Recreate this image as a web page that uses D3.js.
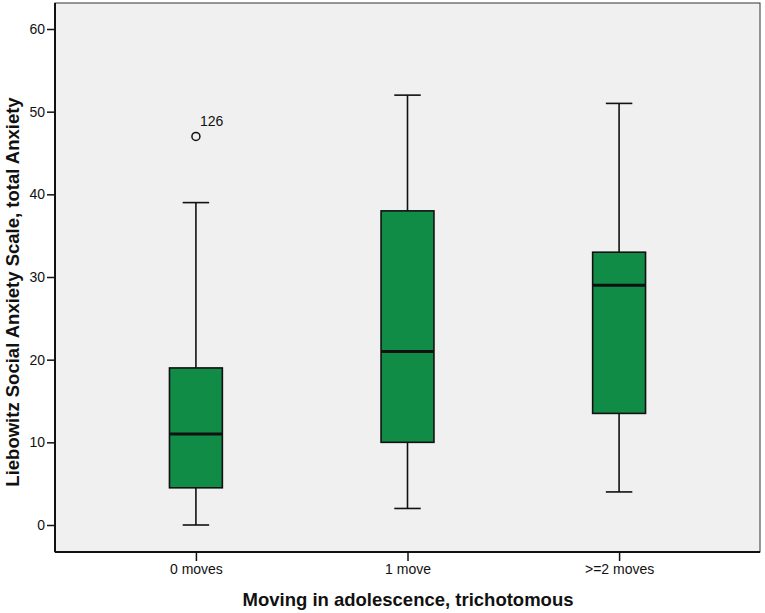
<!DOCTYPE html>
<html>
<head>
<meta charset="utf-8">
<script src="https://cdn.jsdelivr.net/npm/d3@7"></script>
<style>
  body { margin: 0; background: #fff; }
  svg text { font-family: "Liberation Sans", Arial, sans-serif; fill: #111; }
  .tick-label { font-size: 14px; }
  .axis-title { font-size: 18.5px; font-weight: bold; }
</style>
</head>
<body>
<svg id="chart"></svg>
<script>
// data
const groups = ['0 moves', '1 move', '>=2 moves']
const whiskerLow = [0, 2, 4]
const q1 = [4.5, 10, 13.5]
const medians = [11, 21, 29]
const q3 = [19, 38, 33]
const whiskerHigh = [39, 52, 51]
const outliers = [{group: '0 moves', value: 47, label: '126'}]
const yTicks = [0, 10, 20, 30, 40, 50, 60]

const width = 765, height = 613
const plot = {left: 55, right: 760, top: 3, bottom: 552}

const svg = d3.select('#chart')
    .attr('width', width)
    .attr('height', height)

const x = d3.scalePoint()
    .domain(groups)
    .range([plot.left, plot.right])
    .padding(0.666)

const y = d3.scaleLinear()
    .domain([0, 60])
    .range([525, 29])

const boxW = x.step() * 0.25
const capW = boxW / 2

// plot background
svg.append('rect')
    .attr('x', plot.left)
    .attr('y', plot.top)
    .attr('width', plot.right - plot.left)
    .attr('height', plot.bottom - plot.top)
    .attr('fill', '#f0f0f0')
    .attr('stroke', '#333')
    .attr('stroke-width', 1)

// axes
const yAxis = d3.axisLeft(y).tickValues(yTicks).tickSize(8).tickPadding(2)
const yG = svg.append('g')
    .attr('transform', `translate(${plot.left},0)`)
    .call(yAxis)
yG.select('.domain').remove()
yG.selectAll('.tick line').attr('stroke', '#111').attr('stroke-width', 1.5)
yG.selectAll('.tick text').attr('class', 'tick-label').attr('font-size', null).attr('font-family', null)

const xAxis = d3.axisBottom(x).tickSize(9).tickPadding(3)
const xG = svg.append('g')
    .attr('transform', `translate(0,${plot.bottom})`)
    .call(xAxis)
xG.select('.domain').remove()
xG.selectAll('.tick line').attr('stroke', '#111').attr('stroke-width', 1.5)
xG.selectAll('.tick text').attr('class', 'tick-label').attr('font-size', null).attr('font-family', null)

// axis lines (left + bottom, heavier)
svg.append('line')
    .attr('x1', plot.left).attr('x2', plot.left)
    .attr('y1', plot.top).attr('y2', plot.bottom)
    .attr('stroke', '#111').attr('stroke-width', 2)
svg.append('line')
    .attr('x1', plot.left).attr('x2', plot.right)
    .attr('y1', plot.bottom).attr('y2', plot.bottom)
    .attr('stroke', '#111').attr('stroke-width', 2)

// boxes
const boxes = groups.map((g, i) => ({
    group: g, lo: whiskerLow[i], q1: q1[i], med: medians[i], q3: q3[i], hi: whiskerHigh[i]
}))

const bg = svg.selectAll('.box')
    .data(boxes)
    .join('g')
    .attr('class', 'box')

// whisker stems
bg.append('line')
    .attr('x1', d => x(d.group)).attr('x2', d => x(d.group))
    .attr('y1', d => y(d.hi)).attr('y2', d => y(d.q3))
    .attr('stroke', '#111').attr('stroke-width', 1.6)
bg.append('line')
    .attr('x1', d => x(d.group)).attr('x2', d => x(d.group))
    .attr('y1', d => y(d.q1)).attr('y2', d => y(d.lo))
    .attr('stroke', '#111').attr('stroke-width', 1.6)

// caps
bg.selectAll('.cap')
    .data(d => [{g: d.group, v: d.hi}, {g: d.group, v: d.lo}])
    .join('line')
    .attr('class', 'cap')
    .attr('x1', d => x(d.g) - capW / 2).attr('x2', d => x(d.g) + capW / 2)
    .attr('y1', d => y(d.v)).attr('y2', d => y(d.v))
    .attr('stroke', '#111').attr('stroke-width', 1.6)

bg.append('rect')
    .attr('x', d => x(d.group) - boxW / 2)
    .attr('y', d => y(d.q3))
    .attr('width', boxW)
    .attr('height', d => y(d.q1) - y(d.q3))
    .attr('fill', '#118c47')
    .attr('stroke', '#111')
    .attr('stroke-width', 1.6)

bg.append('line')
    .attr('x1', d => x(d.group) - boxW / 2).attr('x2', d => x(d.group) + boxW / 2)
    .attr('y1', d => y(d.med)).attr('y2', d => y(d.med))
    .attr('stroke', '#111').attr('stroke-width', 3)

// outliers
svg.selectAll('.outlier')
    .data(outliers)
    .join('circle')
    .attr('class', 'outlier')
    .attr('cx', d => x(d.group))
    .attr('cy', d => y(d.value))
    .attr('r', 4)
    .attr('fill', 'none')
    .attr('stroke', '#111')
    .attr('stroke-width', 1.5)

svg.selectAll('.outlier-label')
    .data(outliers)
    .join('text')
    .attr('class', 'tick-label')
    .attr('x', d => x(d.group) + 4)
    .attr('y', d => y(d.value) - 10)
    .text(d => d.label)

// titles
svg.append('text')
    .attr('class', 'axis-title')
    .attr('x', 408)
    .attr('y', 606)
    .attr('text-anchor', 'middle')
    .text('Moving in adolescence, trichotomous')

svg.append('text')
    .attr('class', 'axis-title')
    .attr('transform', `translate(19,292) rotate(-90)`)
    .attr('text-anchor', 'middle')
    .text('Liebowitz Social Anxiety Scale, total Anxiety')
</script>
</body>
</html>
